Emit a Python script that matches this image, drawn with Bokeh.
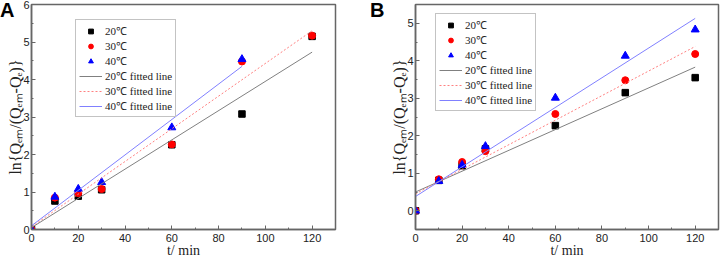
from bokeh.plotting import figure
from bokeh.layouts import row
from bokeh.models import Range1d, SingleIntervalTicker, Legend, LegendItem
from bokeh.embed import file_html
from bokeh.resources import INLINE
from jinja2 import Template

# ---------------- data ----------------
temps = ["20℃", "30℃", "40℃"]
panel_letters = ["A", "B"]

# Panel A
A_t20 = [0, 10, 20, 30, 60, 90, 120]
A_y20 = [0.0, 0.76, 0.89, 1.06, 2.26, 3.08, 5.15]
A_t30 = [0, 10, 20, 30, 60, 90, 120]
A_y30 = [0.0, 0.85, 0.97, 1.08, 2.27, 4.48, 5.17]
A_t40 = [0, 10, 20, 30, 60, 90]
A_y40 = [0.0, 0.87, 1.08, 1.26, 2.72, 4.54]
A_fit_t20 = [0, 120]
A_fit_y20 = [0.05, 4.73]
A_fit_t30 = [0, 120]
A_fit_y30 = [0.07, 5.30]
A_fit_t40 = [0, 90]
A_fit_y40 = [0.10, 4.35]

# Panel B
B_t = [0, 10, 20, 30, 60, 90, 120]
B_y20 = [0.0, 0.81, 1.20, 1.65, 2.27, 3.15, 3.55]
B_y30 = [0.0, 0.84, 1.30, 1.59, 2.58, 3.48, 4.18]
B_y40 = [0.0, 0.79, 1.22, 1.72, 3.01, 4.13, 4.83]
B_fit_t = [0, 120]
B_fit_y20 = [0.50, 3.83]
B_fit_y30 = [0.45, 4.38]
B_fit_y40 = [0.38, 5.13]

x_ticks_interval = 20
y_ticks_interval = 1

SERIF = "Liberation Serif"
SANS = "Liberation Sans"
YLABEL = "ln{Qₑₘ/(Qₑₘ-Qₑ)}"
XLABEL = "t/ min"


def make_panel(yr, pts, fits, mbl, mbr, legend_loc):
    p = figure(width=360, height=263, output_backend="svg", toolbar_location=None,
               x_range=Range1d(0, 130), y_range=Range1d(*yr),
               min_border_left=mbl, min_border_right=mbr, min_border_top=4,
               min_border_bottom=34)
    p.grid.visible = False
    p.outline_line_color = "#666666"
    p.outline_line_width = 1.5
    p.background_fill_color = "white"
    p.border_fill_color = "white"

    p.xaxis.ticker = SingleIntervalTicker(interval=x_ticks_interval, num_minor_ticks=2)
    p.yaxis.ticker = SingleIntervalTicker(interval=y_ticks_interval, num_minor_ticks=2)
    for ax in (p.xaxis, p.yaxis):
        ax.major_tick_in = 4
        ax.major_tick_out = 0
        ax.minor_tick_in = 2
        ax.minor_tick_out = 0
        ax.axis_line_color = "#666666"
        ax.axis_line_width = 1.5
        ax.major_tick_line_color = "#666666"
        ax.minor_tick_line_color = "#666666"
        ax.major_label_text_font = SANS
        ax.major_label_text_font_size = "11px"
        ax.major_label_text_color = "#222222"
        ax.axis_label_text_font = SERIF
        ax.axis_label_text_font_style = "normal"
        ax.axis_label_text_color = "#222222"
    p.xaxis.axis_label_text_font_size = "14px"
    p.yaxis.axis_label_text_font_size = "16px"
    p.yaxis.major_label_standoff = 2
    p.yaxis.axis_label_standoff = -4
    p.xaxis.major_label_standoff = 4
    p.xaxis.axis_label_standoff = -2
    p.xaxis.axis_label = XLABEL
    p.yaxis.axis_label = YLABEL

    (t1, y1), (t2, y2), (t3, y3) = pts
    r1 = p.scatter(t1, y1, marker="square", size=6.5, color="black")
    r2 = p.scatter(t2, y2, marker="circle", size=7, color="red")
    r3 = p.scatter(t3, y3, marker="triangle", size=8, color="blue")
    (ft1, fy1), (ft2, fy2), (ft3, fy3) = fits
    l1 = p.line(ft1, fy1, line_color="#808080", line_width=1)
    l2 = p.line(ft2, fy2, line_color="#ff8080", line_width=1, line_dash="2 2")
    l3 = p.line(ft3, fy3, line_color="#8080ff", line_width=1)
    items = [
        LegendItem(label=temps[0], renderers=[r1]),
        LegendItem(label=temps[1], renderers=[r2]),
        LegendItem(label=temps[2], renderers=[r3]),
        LegendItem(label=temps[0] + " fitted line", renderers=[l1]),
        LegendItem(label=temps[1] + " fitted line", renderers=[l2]),
        LegendItem(label=temps[2] + " fitted line", renderers=[l3]),
    ]
    leg = Legend(items=items, location=legend_loc, glyph_width=23, glyph_height=12,
                 label_height=12, spacing=0, padding=3, margin=0, label_standoff=3,
                 label_text_font=SERIF, label_text_font_size="11px",
                 label_text_color="#222222",
                 border_line_color="#888888", border_line_width=1,
                 background_fill_alpha=1)
    p.add_layout(leg, "center")
    return p


pA = make_panel((0, 6),
                [(A_t20, A_y20), (A_t30, A_y30), (A_t40, A_y40)],
                [(A_fit_t20, A_fit_y20), (A_fit_t30, A_fit_y30), (A_fit_t40, A_fit_y40)],
                31, 25, (44, 112))
pB = make_panel((-0.5, 5.5),
                [(B_t, B_y20), (B_t, B_y30), (B_t, B_y40)],
                [(B_fit_t, B_fit_y20), (B_fit_t, B_fit_y30), (B_fit_t, B_fit_y40)],
                55, 2, (20, 118))

layout = row(pA, pB, spacing=0)

# panel letters sit outside the plot frames, so they go in the page template
letter_style = ("position:absolute; top:0px; z-index:10; font-family:'Liberation Sans',Arial,sans-serif;"
                " font-weight:bold; font-size:20px; line-height:20px; color:black;")
TEMPLATE = Template(
    "{% extends base %}\n{% block contents %}\n{{ super() }}\n"
    + '<div style="' + letter_style + ' left:0px;">' + panel_letters[0] + "</div>\n"
    + '<div style="' + letter_style + ' left:370px;">' + panel_letters[1] + "</div>\n"
    + "{% endblock %}"
)

try:
    html = file_html(layout, INLINE, template=TEMPLATE)
except Exception:
    html = file_html(layout, INLINE)
open("out.html", "w").write(html)
